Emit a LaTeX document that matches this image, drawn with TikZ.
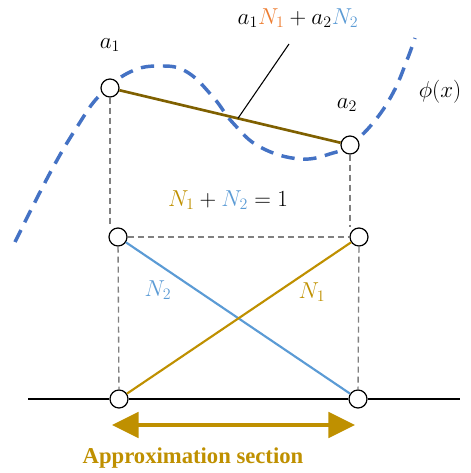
\documentclass[tikz,border=0pt]{standalone}
\usepackage{fontspec}
\newfontfamily\captionfont{Liberation Serif}
\usepackage{tikz}
\usetikzlibrary{arrows.meta,positioning,calc}
\definecolor{ShapeGold}{HTML}{BF9000}
\definecolor{ShapeBrown}{HTML}{7F6000}
\definecolor{ShapeBlue}{HTML}{5B9BD5}
\definecolor{ShapeOrange}{HTML}{ED7D31}
\definecolor{CurveBlue}{HTML}{4472C4}
\definecolor{GuideGray}{HTML}{808080}

\begin{document}
\begin{tikzpicture}[
  x=0.75pt, y=-0.75pt,
  font=\fontsize{17}{20}\selectfont,
  knot/.style={circle, draw, line width=0.9pt, fill=white, minimum size=13.5pt, inner sep=0pt},
  guide/.style={draw=GuideGray, line width=1pt, dash pattern=on 4.5pt off 3pt},
  phicurve/.style={draw=CurveBlue, line width=2.6pt, dash pattern=on 10pt off 6.5pt},
  interp/.style={draw=ShapeBrown, line width=2pt},
  shapefn/.style={line width=1.6pt},
  span/.style={{Triangle[length=20pt, width=19pt]}-{Triangle[length=20pt, width=19pt]}, draw=ShapeGold, fill=ShapeGold, line width=3pt}
]
  \useasboundingbox (0,0) rectangle (470,473);

  % function phi(x)
  \draw[phicurve] plot[smooth, tension=0.7] coordinates {
    (15,242) (50,173) (77,127) (100,95) (130,72) (160,66) (187,72)
    (213,97) (233,123) (260,147) (300,159) (333,153) (350,145)
    (373,123) (393,93) (407,60) (415,38)};

  \node[knot] (p1) at (110,88) {};
  \node[knot] (p2) at (350,145) {};
  \node[knot] (q1) at (118,237) {};
  \node[knot] (q2) at (359,237) {};
  \node[knot] (r1) at (119,399) {};
  \node[knot] (r2) at (358,399) {};

  \node (a1) at (110,45) {$a_1$};
  \node (a2) at (347,105) {$a_2$};
  \node (phi) at (440,92) {$\phi(x)$};
  \node (sum) at (298,18) {$a_1{\color{ShapeOrange}N_1}+a_2{\color{ShapeBlue}N_2}$};
  \node (unity) at (228,200) {${\color{ShapeGold}N_1}+{\color{ShapeBlue}N_2}=1$};
  \node[text=ShapeBlue] (n2) at (158,290) {$N_2$};
  \node[text=ShapeGold] (n1) at (312,292) {$N_1$};

  \coordinate (axl) at (28,399);
  \coordinate (axr) at (460,399);
  \coordinate (lead) at ($(p1)!0.533!(p2)$);
  \coordinate (tip) at (289,44);
  \coordinate (arl) at (112,425);
  \coordinate (arr) at (355,425);

  \draw[guide] (p1) -- (p1 |- q1.north);
  \draw[guide] (p2) -- (p2 |- q2.north);
  \draw[guide] (q1) -- (q2);
  \draw[guide] (q1) -- (r1);
  \draw[guide] (q2) -- (r2);

  \draw[interp] (p1) -- (p2);
  \draw[line width=0.8pt] (lead) -- (tip);

  \draw[shapefn, ShapeBlue] (q1) -- (r2);
  \draw[shapefn, ShapeGold] (r1) -- (q2);

  \draw[line width=1.5pt] (axl) -- (r1);
  \draw[line width=1.5pt] (r1) -- (r2);
  \draw[line width=1.5pt] (r2) -- (axr);

  \draw[span] (arl) -- (arr);
  \node[text=ShapeGold, font=\captionfont\bfseries\fontsize{17}{20}\selectfont] (sect) at (193,458) {Approximation section};
\end{tikzpicture}
\end{document}
